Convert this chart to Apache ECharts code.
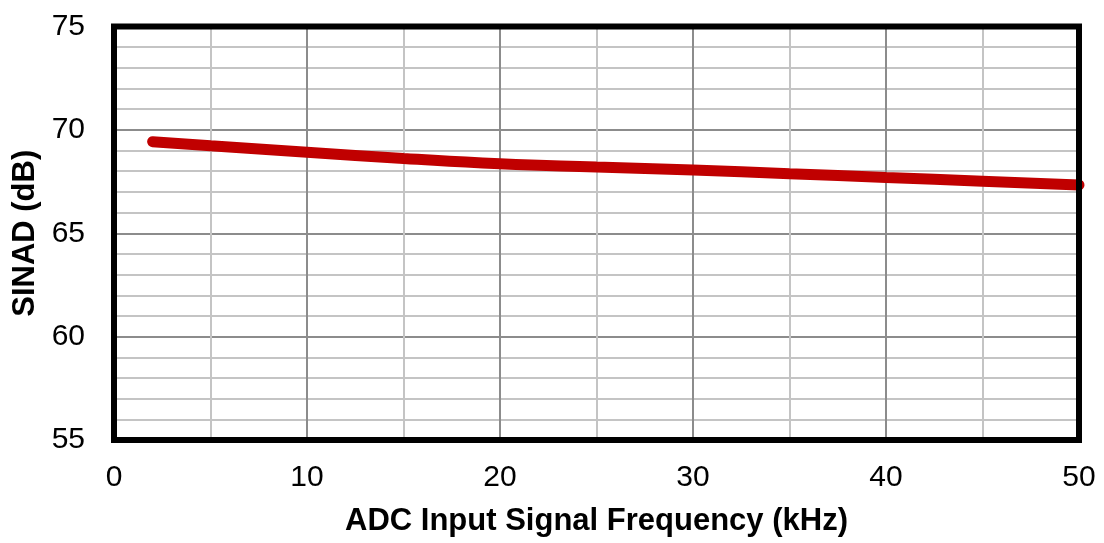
<!DOCTYPE html>
<html><head><meta charset="utf-8">
<script src="https://cdn.jsdelivr.net/npm/echarts@6/dist/echarts.min.js"></script>
<style>html,body{margin:0;padding:0;background:#fff}#c{width:1104px;height:543px}</style>
</head><body><div id="c"></div>
<script>
const freqKHz = [2, 5, 10, 15, 20, 25, 30, 35, 40, 45, 50];
const sinadDb = [69.43, 69.23, 68.92, 68.62, 68.36, 68.2, 68.06, 67.88, 67.7, 67.52, 67.33];
const xTitle = 'ADC Input Signal Frequency (kHz)';
const yTitle = 'SINAD (dB)';

const chart = echarts.init(document.getElementById('c'));
const font = 'Liberation Sans, Arial, sans-serif';
chart.setOption({
  animation: false,
  grid: { left: 114, right: 25, top: 26.5, bottom: 103, show: true, borderColor: '#000', borderWidth: 6,
          backgroundColor: 'transparent', containLabel: false, outerBoundsMode: 'none', z: 10 },
  xAxis: {
    type: 'value', min: 0, max: 50, interval: 10,
    axisLine: { show: false }, axisTick: { show: false },
    axisLabel: { color: '#000', fontSize: 30, fontFamily: font, margin: 23 },
    splitLine: { show: true, lineStyle: { color: '#8c8c8c', width: 2 } },
    minorTick: { show: false, splitNumber: 2 },
    minorSplitLine: { show: true, lineStyle: { color: '#c4c4c4', width: 2 } },
    name: xTitle, nameLocation: 'middle', nameGap: 66,
    nameTextStyle: { color: '#000', fontSize: 31, fontWeight: 'bold', fontFamily: font }
  },
  yAxis: {
    type: 'value', min: 55, max: 75, interval: 5,
    axisLine: { show: false }, axisTick: { show: false },
    axisLabel: { color: '#000', fontSize: 30, fontFamily: font, margin: 29 },
    splitLine: { show: true, lineStyle: { color: '#8c8c8c', width: 2 } },
    minorTick: { show: false, splitNumber: 5 },
    minorSplitLine: { show: true, lineStyle: { color: '#c4c4c4', width: 2 } },
    name: yTitle, nameLocation: 'middle', nameGap: 71,
    nameTextStyle: { color: '#000', fontSize: 31, fontWeight: 'bold', fontFamily: font }
  },
  series: [{
    type: 'line', smooth: true, showSymbol: false,
    data: freqKHz.map((f, i) => [f, sinadDb[i]]),
    lineStyle: { color: '#C00000', width: 11, cap: 'round' },
    z: 3
  }]
});
</script></body></html>
